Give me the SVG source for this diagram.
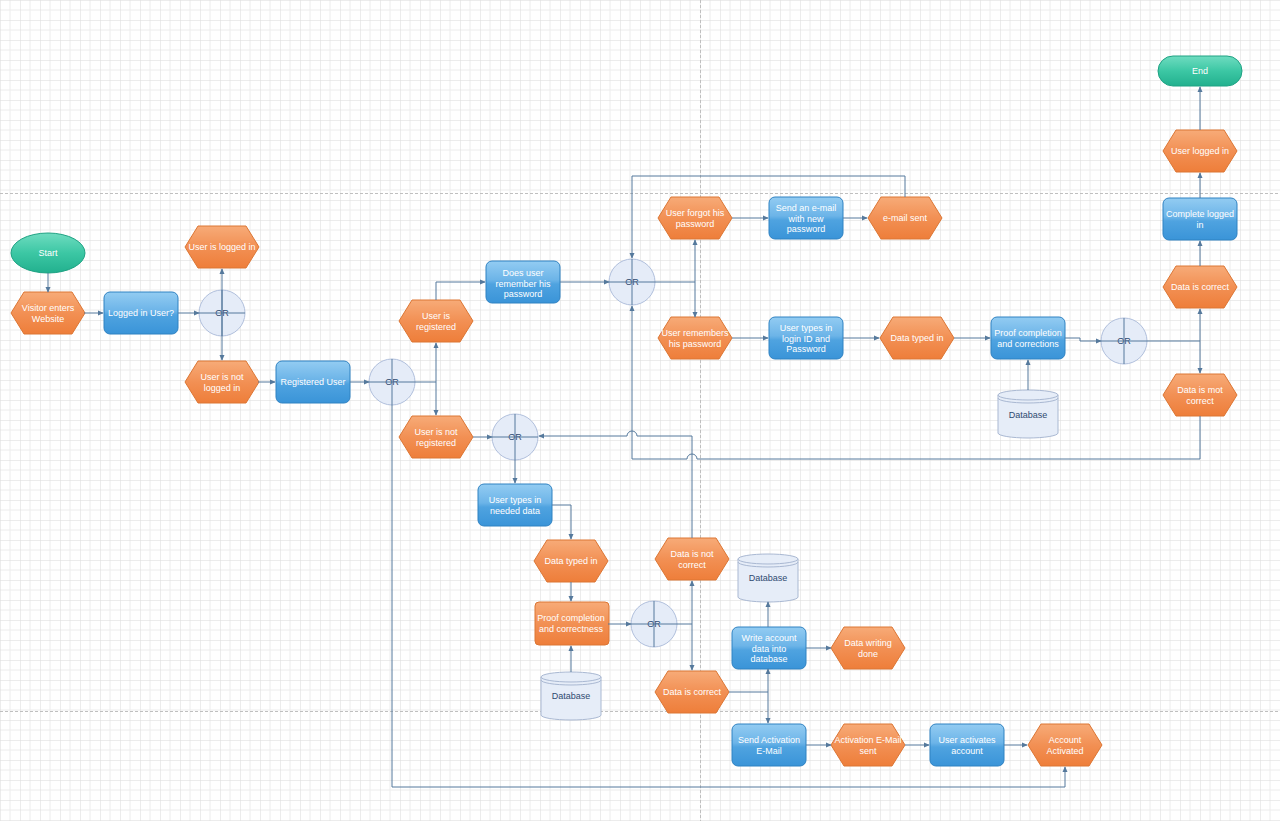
<svg xmlns="http://www.w3.org/2000/svg" xmlns:xlink="http://www.w3.org/1999/xlink" width="1280" height="821" viewBox="0 0 1280 821">
<defs>
<pattern id="grid" width="20" height="20" patternUnits="userSpaceOnUse">
<path d="M10,0 V20 M0,10 H20" stroke="#ececec" stroke-width="1" fill="none"/>
<path d="M0,0 V20 M0,0 H20" stroke="#dadada" stroke-width="1" fill="none"/>
</pattern>
<linearGradient id="gOrange" x1="0" y1="0" x2="0" y2="1">
<stop offset="0" stop-color="#f7ab78"/><stop offset="0.5" stop-color="#f29054"/><stop offset="1" stop-color="#ee7e3a"/>
</linearGradient>
<linearGradient id="gBlue" x1="0" y1="0" x2="0" y2="1">
<stop offset="0" stop-color="#93ccf2"/><stop offset="0.45" stop-color="#6cb4e8"/><stop offset="0.55" stop-color="#4fa3e0"/><stop offset="1" stop-color="#3a94d8"/>
</linearGradient>
<linearGradient id="gTeal" x1="0" y1="0" x2="0" y2="1">
<stop offset="0" stop-color="#6fdcc0"/><stop offset="0.5" stop-color="#3cc7a4"/><stop offset="1" stop-color="#22b08e"/>
</linearGradient>
<path id="hex" d="M-37,0 L-24,-21 H24 L37,0 L24,21 H-24 Z" class="hexs"/>
<rect id="box" x="0" y="0" width="74" height="42" rx="6" ry="6" class="boxs"/>
<rect id="obox" x="0" y="0" width="74" height="43" rx="4" ry="4" class="oboxs"/>
<circle id="orc" r="23" class="orcs"/>
<g id="db">
<path d="M-30,5 V43 A30,5 0 0 0 30,43 V5" fill="#e6edf8" stroke="#a9b8d2"/>
<ellipse cx="0" cy="5" rx="30" ry="5" fill="#e6edf8" stroke="#a9b8d2"/>
<path d="M-30,8 A30,5 0 0 0 30,8" fill="none" stroke="#a9b8d2"/>
</g>
<marker id="arr" viewBox="0 0 8 8" refX="7" refY="4" markerWidth="6" markerHeight="6" orient="auto" markerUnits="userSpaceOnUse">
<path d="M0,0.5 L8,4 L0,7.5 Z" fill="#55799c"/>
</marker>
<style>
.hexs{fill:url(#gOrange);stroke:#dc7634;stroke-width:1;stroke-linejoin:round}
.boxs{fill:url(#gBlue);stroke:#2f82c2;stroke-width:1}
.oboxs{fill:url(#gOrange);stroke:#dc7634;stroke-width:1}
.orcs{fill:#e5ecf8;stroke:#b0bfdc;stroke-width:1}
.t{font-family:"Liberation Sans",Arial,sans-serif;font-size:9px;fill:#ffffff;text-anchor:middle}
.td{font-family:"Liberation Sans",Arial,sans-serif;font-size:9px;fill:#2f4a70;text-anchor:middle}
.c{fill:none;stroke:#55799c;stroke-width:1}
.ca{fill:none;stroke:#55799c;stroke-width:1;marker-end:url(#arr)}
.pg{fill:none;stroke:#bfbfbf;stroke-width:1;stroke-dasharray:3,2}
</style>
</defs>

<rect x="0" y="0" width="1280" height="821" fill="#ffffff"/>
<rect x="0" y="0" width="1280" height="821" fill="url(#grid)"/>
<g id="pagebreaks">
<path class="pg" d="M0,193.5 H1280 M0,711.5 H1280 M700.5,0 V821"/>
</g>

<g id="nodes">
<g id="start"><ellipse cx="48" cy="253" rx="37" ry="20" fill="url(#gTeal)" stroke="#1fa283"/><text class="t" x="48" y="256">Start</text></g>
<g id="visitor"><use href="#hex" x="48" y="313"/><text class="t" x="48" y="311">Visitor enters<tspan x="48" dy="11">Website</tspan></text></g>
<g id="loggedInUser"><use href="#box" x="104" y="292"/><text class="t" x="141" y="316">Logged in User?</text></g>
<g id="or1"><use href="#orc" x="222" y="313"/><text class="td" x="222" y="316">OR</text></g>
<g id="userLoggedIn"><use href="#hex" x="222" y="247"/><text class="t" x="222" y="250">User is logged in</text></g>
<g id="userNotLoggedIn"><use href="#hex" x="222" y="382"/><text class="t" x="222" y="380">User is not<tspan x="222" dy="11">logged in</tspan></text></g>
<g id="registeredUser"><use href="#box" x="276" y="361"/><text class="t" x="313" y="385">Registered User</text></g>
<g id="or2"><use href="#orc" x="392" y="382"/><text class="td" x="392" y="385">OR</text></g>
<g id="userRegistered"><use href="#hex" x="436" y="321"/><text class="t" x="436" y="319">User is<tspan x="436" dy="11">registered</tspan></text></g>
<g id="userNotRegistered"><use href="#hex" x="436" y="437"/><text class="t" x="436" y="435">User is not<tspan x="436" dy="11">registered</tspan></text></g>
<g id="doesUser"><use href="#box" x="486" y="261"/><text class="t" x="523" y="276">Does user<tspan x="523" dy="10.5">remember his</tspan><tspan x="523" dy="10.5">password</tspan></text></g>
<g id="or3"><use href="#orc" x="632" y="282"/><text class="td" x="632" y="285">OR</text></g>
<g id="forgot"><use href="#hex" x="695" y="218"/><text class="t" x="695" y="216">User forgot his<tspan x="695" dy="11">password</tspan></text></g>
<g id="remembers"><use href="#hex" x="695" y="338"/><text class="t" x="695" y="336">User remembers<tspan x="695" dy="11">his password</tspan></text></g>
<g id="sendEmail"><use href="#box" x="769" y="197"/><text class="t" x="806" y="211">Send an e-mail<tspan x="806" dy="10.5">with new</tspan><tspan x="806" dy="10.5">password</tspan></text></g>
<g id="emailSent"><use href="#hex" x="905" y="218"/><text class="t" x="905" y="221">e-mail sent</text></g>
<g id="typesLogin"><use href="#box" x="769" y="317"/><text class="t" x="806" y="331">User types in<tspan x="806" dy="10.5">login ID and</tspan><tspan x="806" dy="10.5">Password</tspan></text></g>
<g id="dataTyped1"><use href="#hex" x="917" y="338"/><text class="t" x="917" y="341">Data typed in</text></g>
<g id="proofCorrections"><use href="#box" x="991" y="317"/><text class="t" x="1028" y="336">Proof completion<tspan x="1028" dy="11">and corrections</tspan></text></g>
<g id="database1"><use href="#db" x="1028" y="390"/><text class="td" x="1028" y="418">Database</text></g>
<g id="or5"><use href="#orc" x="1124" y="341"/><text class="td" x="1124" y="344">OR</text></g>
<g id="dataCorrect1"><use href="#hex" x="1200" y="287"/><text class="t" x="1200" y="290">Data is correct</text></g>
<g id="dataMotCorrect"><use href="#hex" x="1200" y="395"/><text class="t" x="1200" y="393">Data is mot<tspan x="1200" dy="11">correct</tspan></text></g>
<g id="completeLoggedIn"><use href="#box" x="1163" y="198"/><text class="t" x="1200" y="217">Complete logged<tspan x="1200" dy="11">in</tspan></text></g>
<g id="userLoggedIn2"><use href="#hex" x="1200" y="151"/><text class="t" x="1200" y="154">User logged in</text></g>
<g id="end"><rect x="1158" y="56" width="84" height="30" rx="15" ry="15" fill="url(#gTeal)" stroke="#1fa283"/><text class="t" x="1200" y="74">End</text></g>
<g id="or4"><use href="#orc" x="515" y="437"/><text class="td" x="515" y="440">OR</text></g>
<g id="typesNeeded"><use href="#box" x="478" y="484"/><text class="t" x="515" y="503">User types in<tspan x="515" dy="11">needed data</tspan></text></g>
<g id="dataTyped2"><use href="#hex" x="571" y="561"/><text class="t" x="571" y="564">Data typed in</text></g>
<g id="proofCorrectness"><use href="#obox" x="535" y="602"/><text class="t" x="571" y="621">Proof completion<tspan x="571" dy="11">and correctness</tspan></text></g>
<g id="database2"><use href="#db" x="571" y="672"/><text class="td" x="571" y="699">Database</text></g>
<g id="or6"><use href="#orc" x="654" y="624"/><text class="td" x="654" y="627">OR</text></g>
<g id="dataNotCorrect"><use href="#hex" x="692" y="559"/><text class="t" x="692" y="557">Data is not<tspan x="692" dy="11">correct</tspan></text></g>
<g id="dataCorrect2"><use href="#hex" x="692" y="692"/><text class="t" x="692" y="695">Data is correct</text></g>
<g id="database3"><use href="#db" x="768" y="554"/><text class="td" x="768" y="581">Database</text></g>
<g id="writeAccount"><use href="#box" x="732" y="627"/><text class="t" x="769" y="641">Write account<tspan x="769" dy="10.5">data into</tspan><tspan x="769" dy="10.5">database</tspan></text></g>
<g id="writingDone"><use href="#hex" x="868" y="648"/><text class="t" x="868" y="646">Data writing<tspan x="868" dy="11">done</tspan></text></g>
<g id="sendActivation"><use href="#box" x="732" y="724"/><text class="t" x="769" y="743">Send Activation<tspan x="769" dy="11">E-Mail</tspan></text></g>
<g id="activationSent"><use href="#hex" x="868" y="745"/><text class="t" x="868" y="743">Activation E-Mail<tspan x="868" dy="11">sent</tspan></text></g>
<g id="userActivates"><use href="#box" x="930" y="724"/><text class="t" x="967" y="743">User activates<tspan x="967" dy="11">account</tspan></text></g>
<g id="accountActivated"><use href="#hex" x="1065" y="745"/><text class="t" x="1065" y="743">Account<tspan x="1065" dy="11">Activated</tspan></text></g>
</g>

<g id="connectors">
<path class="ca" d="M48,273 V292"/>
<path class="ca" d="M84,313 H103"/>
<path class="ca" d="M178,313 H199"/>
<path class="c" d="M199,313 H245 M222,290 V336"/>
<path class="ca" d="M222,313 V269"/>
<path class="ca" d="M222,313 V360"/>
<path class="ca" d="M258,382 H275"/>
<path class="ca" d="M350,382 H369"/>
<path class="c" d="M369,382 H436"/>
<path class="ca" d="M436,382 V343"/>
<path class="ca" d="M436,382 V415"/>
<path class="ca" d="M392,359 V787 H1065 V767"/>
<path class="ca" d="M436,300 V282 H485"/>
<path class="ca" d="M560,282 H609"/>
<path class="c" d="M609,282 H695 M632,259 V305"/>
<path class="ca" d="M695,282 V240"/>
<path class="ca" d="M695,282 V317"/>
<path class="ca" d="M905,197 V176 H632 V258"/>
<path class="ca" d="M1200,416 V459 H697 a5,5 0 0 0 -10,0 H632 V306"/>
<path class="ca" d="M692,538 V436 H637 a5,5 0 0 0 -10,0 H539"/>
<path class="ca" d="M732,218 H768"/>
<path class="ca" d="M843,218 H867"/>
<path class="ca" d="M732,338 H768"/>
<path class="ca" d="M843,338 H879"/>
<path class="ca" d="M954,338 H990"/>
<path class="ca" d="M1065,338 H1080 V341 H1101"/>
<path class="ca" d="M1028,390 V360"/>
<path class="c" d="M1101,341 H1200 M1124,318 V364"/>
<path class="ca" d="M1200,341 V309"/>
<path class="ca" d="M1200,341 V373"/>
<path class="ca" d="M1200,266 V241"/>
<path class="ca" d="M1200,198 V173"/>
<path class="ca" d="M1200,130 V87"/>
<path class="ca" d="M473,437 H492"/>
<path class="c" d="M492,437 H538"/>
<path class="ca" d="M515,414 V483"/>
<path class="ca" d="M552,505 H571 V539"/>
<path class="ca" d="M571,582 V601"/>
<path class="ca" d="M571,672 V646"/>
<path class="ca" d="M608,624 H631"/>
<path class="c" d="M631,624 H692 M654,601 V647"/>
<path class="ca" d="M692,624 V581"/>
<path class="ca" d="M692,624 V670"/>
<path class="c" d="M729,692 H768"/>
<path class="ca" d="M768,692 V669"/>
<path class="ca" d="M768,692 V723"/>
<path class="ca" d="M768,627 V602"/>
<path class="ca" d="M806,648 H831"/>
<path class="ca" d="M806,745 H831"/>
<path class="ca" d="M905,745 H929"/>
<path class="ca" d="M1004,745 H1027"/>
</g>
</svg>
